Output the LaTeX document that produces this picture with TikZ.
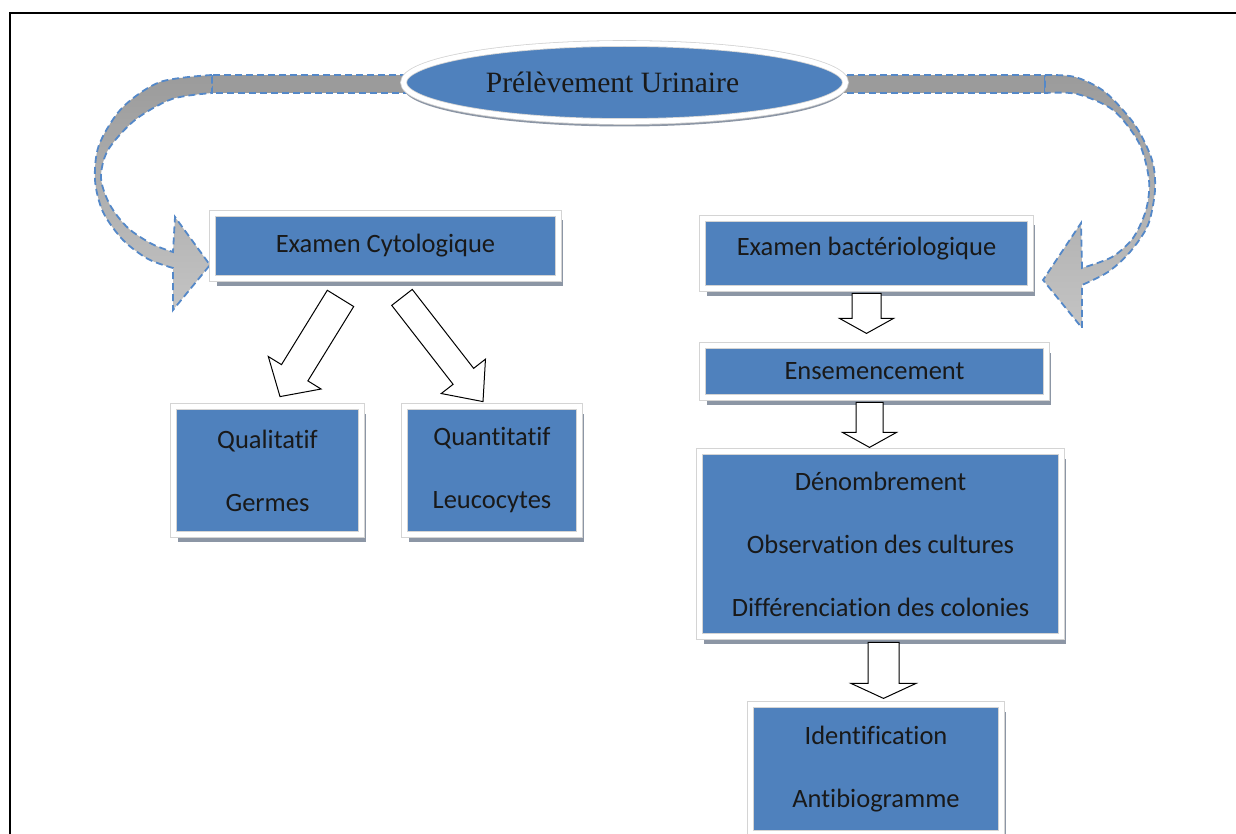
\documentclass[tikz,border=0pt]{standalone}
\usepackage{fontspec}
\setmainfont{Liberation Serif}
\newfontfamily\calibfont[Ligatures=NoCommon]{Carlito}
\usetikzlibrary{shapes.geometric,shadows,calc}

\definecolor{boxblue}{RGB}{79,129,189}
\definecolor{rimgray}{RGB}{212,212,212}
\definecolor{shadegray}{RGB}{140,150,165}
\definecolor{dashblue}{RGB}{84,136,200}
\definecolor{bandgray}{RGB}{155,155,155}
\definecolor{headgray}{RGB}{196,196,196}

\tikzset{
  stepbox/.style={fill=boxblue, draw=rimgray, double=white, double distance=5pt,
    line width=0.8pt, inner sep=0pt, align=center, text=black!90,
    drop shadow={shadow xshift=4pt, shadow yshift=-7pt, fill=shadegray, opacity=1},
    font=\calibfont\fontsize{26.5}{63}\selectfont},
  hollowarrow/.style={fill=white, draw=black, line width=1pt, line join=miter},
  bentarrow/.style={draw=dashblue, dash pattern=on 7pt off 4pt, line width=1.8pt}
}

% tail, tip, half shaft, half head, head length
\newcommand{\blockarrow}[5]{%
  \coordinate (hb) at ($(#2)!#5!(#1)$);
  \draw[hollowarrow] ($(#1)!#3!90:(#2)$) -- ($(hb)!#3!90:(#2)$)
    -- ($(hb)!#4!90:(#2)$) -- (#2) -- ($(hb)!#4!-90:(#2)$)
    -- ($(hb)!#3!-90:(#2)$) -- ($(#1)!#3!-90:(#2)$) -- cycle;}

\begin{document}
\begin{tikzpicture}[x=1pt,y=-1pt]
    \useasboundingbox (0,0) rectangle (1236,834);
    \clip (0,0) rectangle (1236,834);
    \draw[line width=2pt] (10,850) -- (10,13) -- (1250,13);

    % curved arrows behind the ellipse
    \draw[bentarrow, fill=bandgray] (212,75) rectangle (440,93);
    \draw[bentarrow, top color=bandgray, bottom color=headgray]
      plot[smooth] coordinates {(212,75) (160,82) (122,108) (99,145) (95,180)
        (103,212) (123,240) (148,259) (173,268)}
      -- (173,310) -- (210,265) -- (175,217) -- (173,252)
      -- plot[smooth] coordinates {(173,252) (152,244) (128,228) (110,205)
        (101,178) (108,150) (135,120) (172,99) (212,93)}
      -- cycle;
    \draw[bentarrow, fill=bandgray] (810,75) rectangle (1045,93);
    \draw[bentarrow, top color=bandgray, bottom color=headgray]
      plot[smooth] coordinates {(1045,75) (1075,77) (1105,92) (1135,125)
        (1152,160) (1155,190) (1148,225) (1130,252) (1108,272) (1082,285)}
      -- (1082,328) -- (1043,280) -- (1081,223) -- (1082,268)
      -- plot[smooth] coordinates {(1082,268) (1112,257) (1133,238)
        (1146,210) (1149,180) (1139,143) (1113,110) (1077,94) (1045,93)}
      -- cycle;

    \node[ellipse, fill=boxblue, draw=rimgray, double=white, double distance=5pt,
      line width=0.8pt, minimum width=442pt, minimum height=78pt, inner sep=0pt,
      drop shadow={shadow xshift=0pt, shadow yshift=-5pt, fill=shadegray, opacity=1},
      font=\fontsize{29.5}{34}\selectfont, text=black!90]
      (prel) at (624.5,82.5) {Prélèvement Urinaire\hspace*{24pt}};

    \node[stepbox, minimum width=346pt, minimum height=65pt] (cyto) at (385.5,246)
      {Examen Cytologique};
    \node[stepbox, minimum width=328pt, minimum height=70pt, text depth=15pt]
      (bact) at (866.5,253.5) {Examen bactériologique};
    \node[stepbox, minimum width=344pt, minimum height=52pt] (ensem) at (874.5,371.5)
      {Ensemencement};
    \node[stepbox, minimum width=362pt, minimum height=185pt] (denom) at (880.5,544)
      {Dénombrement\\Observation des cultures\\Différenciation des colonies};
    \node[stepbox, minimum width=251pt, minimum height=129pt] (ident) at (876,769)
      {Identification\\Antibiogramme};
    \node[stepbox, minimum width=188pt, minimum height=128pt] (qual) at (267.5,470.5)
      {Qualitatif\\Germes};
    \node[stepbox, minimum width=175pt, minimum height=128pt] (quant) at (492,470.5)
      {Quantitatif\\Leucocytes};

    \coordinate (t1) at ($(cyto.south)+(-45,19.5)$);
    \coordinate (p1) at ($(qual.north)+(12.5,-9.5)$);
    \coordinate (t2) at ($(cyto.south)+(16.5,18.5)$);
    \coordinate (p2) at ($(quant.north)+(-9,-4.5)$);
    \coordinate (t3) at ($(bact.south)+(0,4.5)$);
    \coordinate (p3) at ($(bact.south)+(0,44.5)$);
    \coordinate (t4) at ($(ensem.south)+(-5,4.5)$);
    \coordinate (p4) at ($(ensem.south)+(-5,49.5)$);
    \coordinate (t5) at ($(denom.south)+(3,5.5)$);
    \coordinate (p5) at ($(denom.south)+(3,61.5)$);
    \blockarrow{t1}{p1}{15.5pt}{31pt}{28pt}
    \blockarrow{t2}{p2}{13pt}{28pt}{32pt}
    \blockarrow{t3}{p3}{14.5pt}{27pt}{15pt}
    \blockarrow{t4}{p4}{13.5pt}{27pt}{15pt}
    \blockarrow{t5}{p5}{15.5pt}{32.5pt}{15pt}
\end{tikzpicture}
\end{document}
